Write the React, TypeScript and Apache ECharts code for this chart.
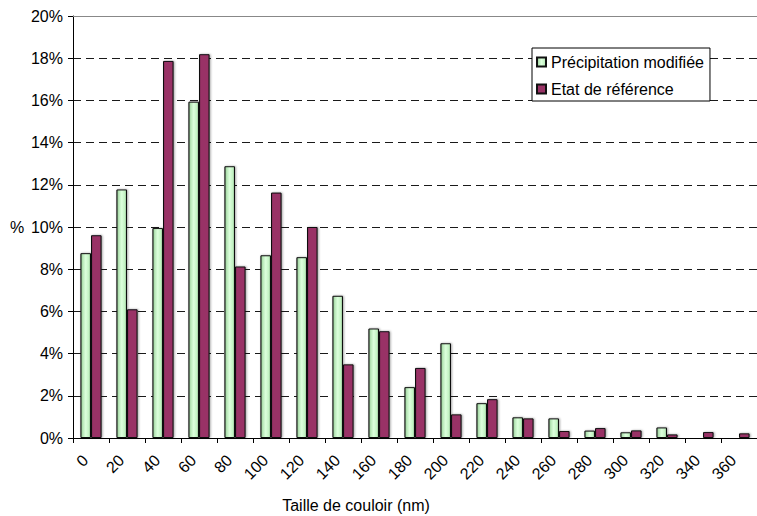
import React, { useEffect, useRef } from "react";
import * as echarts from "echarts";

const categories = ["0", "20", "40", "60", "80", "100", "120", "140", "160", "180", "200", "220", "240", "260", "280", "300", "320", "340", "360"];
const precipitationModifiee = [8.76, 11.78, 9.95, 15.94, 12.88, 8.66, 8.57, 6.74, 5.19, 2.41, 4.49, 1.65, 0.98, 0.93, 0.35, 0.27, 0.5, 0.03, 0];
const etatReference = [9.61, 6.1, 17.87, 18.19, 8.13, 11.63, 10.0, 3.49, 5.06, 3.32, 1.12, 1.84, 0.93, 0.33, 0.47, 0.36, 0.17, 0.28, 0.22];
const seriesNames = ["Précipitation modifiée", "Etat de référence"];
const xAxisTitle = "Taille de couloir (nm)";
const yAxisTitle = "%";

const FONT = "'Liberation Sans', Arial, sans-serif";

export default function App() {
  const ref = useRef<HTMLDivElement>(null);
  useEffect(() => {
    if (!ref.current) return;
    const chart = echarts.init(ref.current, undefined, { renderer: "svg" });
    const greenGrad = new echarts.graphic.LinearGradient(0, 0, 1, 0, [
      { offset: 0, color: "#6f946f" },
      { offset: 0.18, color: "#b5e6b5" },
      { offset: 0.5, color: "#dcffdc" },
      { offset: 0.82, color: "#c2f2c2" },
      { offset: 1, color: "#8db58d" },
    ]);
    const purpleGrad = new echarts.graphic.LinearGradient(0, 0, 1, 0, [
      { offset: 0, color: "#6a2247" },
      { offset: 0.15, color: "#993366" },
      { offset: 0.85, color: "#993366" },
      { offset: 1, color: "#75284f" },
    ]);
    chart.setOption({
      animation: false,
      backgroundColor: "#ffffff",
      textStyle: { fontFamily: FONT },
      grid: { left: 73, top: 16, right: -8, bottom: 78, containLabel: false },
      legend: {
        orient: "vertical",
        left: 532,
        top: 48,
        padding: [6, 6, 4, 4],
        itemGap: 11,
        itemWidth: 9,
        itemHeight: 9,
        borderColor: "#000",
        borderWidth: 1,
        backgroundColor: "#fff",
        textStyle: { fontSize: 16, color: "#000", fontFamily: FONT },
        data: seriesNames.map((n) => ({ name: n, icon: "rect" })),
      },
      xAxis: {
        type: "category",
        data: categories,
        boundaryGap: true,
        axisLine: { show: true, lineStyle: { color: "#000", width: 1 } },
        axisTick: { show: true, length: 5, lineStyle: { color: "#000" } },
        axisLabel: {
          rotate: 45,
          fontSize: 16,
          color: "#000",
          fontFamily: FONT,
          margin: 14,
          padding: [0, 8, 0, 0],
          interval: 0,
        },
        splitLine: { show: false },
      },
      yAxis: {
        type: "value",
        min: 0,
        max: 20,
        interval: 2,
        axisLine: { show: true, lineStyle: { color: "#000", width: 1 } },
        axisTick: { show: true, length: 5, lineStyle: { color: "#000" } },
        axisLabel: {
          formatter: "{value}%",
          fontSize: 16,
          color: "#000",
          fontFamily: FONT,
          margin: 10,
        },
        splitLine: { show: true, lineStyle: { color: "#1a1a1a", type: [8, 5], width: 1 } },
      },
      graphic: [
        {
          type: "text",
          left: 10,
          top: 219,
          style: { text: yAxisTitle, fontSize: 16, fill: "#000", fontFamily: FONT },
        },
        {
          type: "text",
          x: 356,
          y: 505,
          style: {
            text: xAxisTitle,
            fontSize: 16,
            fill: "#000",
            fontFamily: FONT,
            align: "center",
            verticalAlign: "middle",
          },
        },
      ],
      series: [
        {
          name: seriesNames[0],
          type: "bar",
          data: precipitationModifiee,
          barWidth: 10.6,
          barGap: "0%",
          itemStyle: {
            color: greenGrad,
            borderColor: "#111",
            borderWidth: 1,
            shadowColor: "rgba(0,0,0,0.35)",
            shadowBlur: 2,
            shadowOffsetX: 1,
          },
          markLine: {
            silent: true,
            symbol: "none",
            label: { show: false },
            lineStyle: { color: "#888", type: "solid", width: 1 },
            data: [{ yAxis: 20 }],
          },
        },
        {
          name: seriesNames[1],
          type: "bar",
          data: etatReference,
          barWidth: 10.6,
          barGap: "0%",
          itemStyle: {
            color: purpleGrad,
            borderColor: "#111",
            borderWidth: 1,
            shadowColor: "rgba(0,0,0,0.35)",
            shadowBlur: 2,
            shadowOffsetX: 1,
          },
        },
      ],
    });
    return () => chart.dispose();
  }, []);
  return (
    <div
      ref={ref}
      style={{ position: "fixed", left: 0, top: 0, width: 757, height: 516, overflow: "hidden", background: "#fff" }}
    />
  );
}
